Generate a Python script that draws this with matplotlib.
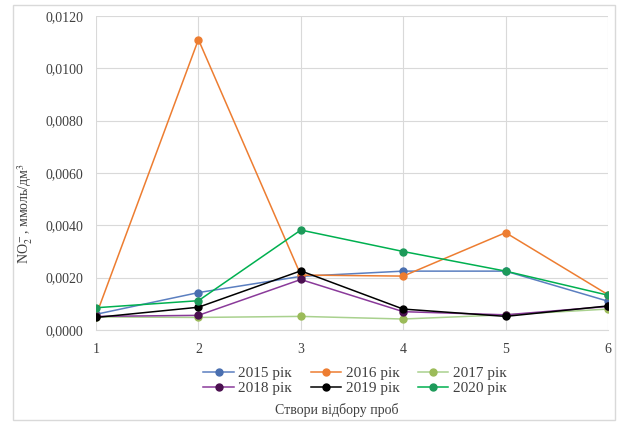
import matplotlib
matplotlib.use("Agg")
import matplotlib.pyplot as plt
from matplotlib.ticker import FuncFormatter, MultipleLocator
from matplotlib.patches import Rectangle

plt.rcParams['font.family'] = ['Liberation Serif', 'DejaVu Serif']
plt.rcParams['mathtext.fontset'] = 'stix'

sites = [1, 2, 3, 4, 5, 6]
series_names = ["2015 рік", "2016 рік", "2017 рік", "2018 рік", "2019 рік", "2020 рік"]
v2015 = [0.00060, 0.00143, 0.00205, 0.00225, 0.00225, 0.00110]
v2016 = [0.00055, 0.01110, 0.00210, 0.00206, 0.00372, 0.00135]
v2017 = [0.00050, 0.00048, 0.00052, 0.00042, 0.00058, 0.00080]
v2018 = [0.00052, 0.00056, 0.00193, 0.00070, 0.00058, 0.00090]
v2019 = [0.00048, 0.00087, 0.00226, 0.00080, 0.00052, 0.00092]
v2020 = [0.00085, 0.00112, 0.00382, 0.00300, 0.00225, 0.00133]
values = [v2015, v2016, v2017, v2018, v2019, v2020]
line_colors = ["#5b7fc0", "#ed7d31", "#a9d18e", "#8a3a9a", "#000000", "#00b050"]
marker_colors = ["#4a6fb0", "#ed7d31", "#9bbb59", "#4b1050", "#000000", "#1d9a5a"]

fig = plt.figure(figsize=(6.21, 4.23), dpi=100)
fig.patches.append(Rectangle((13/621, 1-420/423), (615-13)/621, (420-5)/423,
                             transform=fig.transFigure, fill=False,
                             edgecolor="#d9d9d9", linewidth=1))
ax = fig.add_axes([96/621, 1-330/423, (608-96)/621, (330-16)/423])

handles = []
for name, vals, lc, mc in zip(series_names, values, line_colors, marker_colors):
    h, = ax.plot(sites, vals, color=lc, linewidth=1.1, marker='o', markersize=5,
                 markerfacecolor=mc, markeredgecolor=mc, label=name, zorder=3)
    handles.append(h)

ax.set_xlim(1, 6)
ax.set_ylim(0, 0.012)
ax.yaxis.set_major_locator(MultipleLocator(0.002))
ax.xaxis.set_major_locator(MultipleLocator(1))
ax.yaxis.set_major_formatter(FuncFormatter(lambda v, p: f"{v:.4f}".replace('.', ',')))
ax.grid(True, color="#d9d9d9", linewidth=0.8, zorder=0)
for s in ['top', 'right', 'left']:
    ax.spines[s].set_visible(False)
ax.spines['bottom'].set_color("#d9d9d9")
ax.tick_params(axis='both', length=0, labelsize=10, colors="#404040", pad=9)
ax.tick_params(axis='x', pad=9)

ax.set_ylabel(r"NO$_2^-$, ммоль/дм$^3$", fontsize=10, color="#404040")
ax.yaxis.set_label_coords(-0.12, 0.37)
fig.text(337/621, 1-410/423, "Створи відбору проб", ha='center', va='center',
         fontsize=10, color="#404040")

order = [0, 3, 1, 4, 2, 5]
leg = fig.legend([handles[i] for i in order], [series_names[i] for i in order],
                 loc='center', bbox_to_anchor=(355/621, 1-381/423), ncol=3,
                 frameon=False, fontsize=11, handlelength=2.0, columnspacing=1.2,
                 handletextpad=0.3, labelspacing=0.1)
for t in leg.get_texts():
    t.set_color("#404040")

fig.savefig("out.png", dpi=100)
